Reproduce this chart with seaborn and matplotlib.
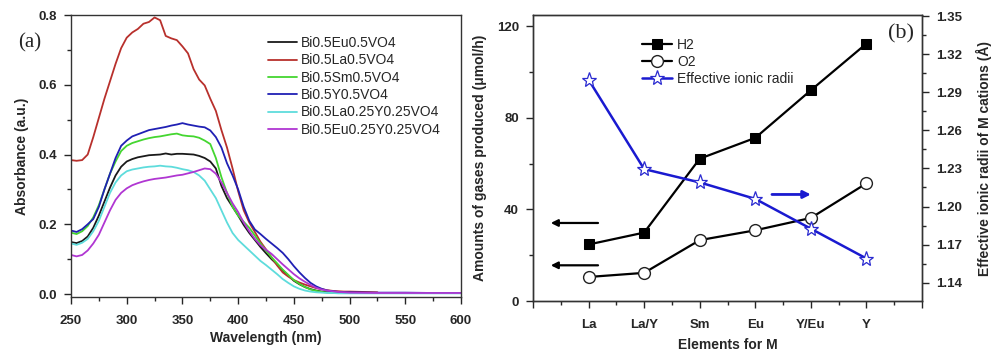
import numpy as np
import pandas as pd
import seaborn as sns
import matplotlib.pyplot as plt
from matplotlib.ticker import MultipleLocator, FixedLocator

# ---- panel (a): UV-vis absorbance spectra ----
wavelength = [250, 255, 260, 265, 270, 275, 280, 285, 290, 295, 300, 305, 310, 315, 320,
              325, 330, 335, 340, 345, 350, 355, 360, 365, 370, 375, 380, 385, 390, 395,
              400, 405, 410, 415, 420, 425, 430, 435, 440, 445, 450, 455, 460, 465, 470,
              475, 480, 485, 490, 495, 500, 525, 550, 575, 600]

abs_eu = [0.149, 0.146, 0.152, 0.165, 0.190, 0.225, 0.265, 0.305, 0.340, 0.365, 0.380, 0.387, 0.392, 0.395, 0.398,
          0.399, 0.400, 0.403, 0.400, 0.402, 0.402, 0.401, 0.400, 0.396, 0.390, 0.380, 0.360, 0.310, 0.275, 0.250,
          0.225, 0.198, 0.175, 0.155, 0.135, 0.117, 0.100, 0.085, 0.068, 0.053, 0.038, 0.028, 0.020, 0.014, 0.010,
          0.007, 0.005, 0.004, 0.004, 0.003, 0.003, 0.003, 0.003, 0.003, 0.003]
abs_la = [0.384, 0.382, 0.384, 0.400, 0.450, 0.505, 0.560, 0.610, 0.660, 0.705, 0.735, 0.750, 0.760, 0.775, 0.780,
          0.793, 0.785, 0.740, 0.733, 0.728, 0.710, 0.690, 0.645, 0.615, 0.598, 0.560, 0.525, 0.470, 0.420, 0.360,
          0.295, 0.240, 0.205, 0.178, 0.150, 0.128, 0.105, 0.082, 0.062, 0.050, 0.040, 0.033, 0.027, 0.022, 0.017,
          0.014, 0.011, 0.009, 0.008, 0.007, 0.007, 0.005, np.nan, np.nan, np.nan]
abs_sm = [0.176, 0.172, 0.180, 0.195, 0.220, 0.255, 0.300, 0.345, 0.380, 0.410, 0.425, 0.433, 0.438, 0.443, 0.447,
          0.450, 0.452, 0.455, 0.458, 0.460, 0.455, 0.453, 0.452, 0.448, 0.440, 0.430, 0.390, 0.335, 0.290, 0.250,
          0.225, 0.207, 0.190, 0.168, 0.145, 0.125, 0.105, 0.088, 0.070, 0.055, 0.040, 0.029, 0.020, 0.013, 0.009,
          0.006, 0.004, 0.004, 0.003, 0.003, 0.003, 0.003, 0.003, 0.003, 0.003]
abs_y = [0.182, 0.178, 0.186, 0.200, 0.215, 0.250, 0.300, 0.345, 0.390, 0.425, 0.440, 0.452, 0.458, 0.464, 0.470,
         0.473, 0.476, 0.479, 0.483, 0.486, 0.490, 0.486, 0.483, 0.480, 0.478, 0.469, 0.450, 0.420, 0.375, 0.340,
         0.300, 0.250, 0.210, 0.185, 0.172, 0.158, 0.145, 0.132, 0.118, 0.100, 0.080, 0.062, 0.046, 0.032, 0.022,
         0.015, 0.010, 0.008, 0.006, 0.005, 0.005, 0.004, 0.004, 0.003, 0.003]
abs_lay = [0.145, 0.141, 0.147, 0.158, 0.180, 0.210, 0.250, 0.290, 0.320, 0.340, 0.352, 0.357, 0.360, 0.363, 0.365,
           0.366, 0.368, 0.366, 0.365, 0.362, 0.358, 0.355, 0.350, 0.340, 0.325, 0.300, 0.275, 0.240, 0.205, 0.175,
           0.155, 0.140, 0.125, 0.110, 0.095, 0.083, 0.070, 0.057, 0.043, 0.032, 0.022, 0.015, 0.010, 0.007, 0.005,
           0.004, 0.003, 0.003, 0.002, 0.002, 0.002, 0.002, 0.002, 0.002, 0.002]
abs_euy = [0.112, 0.108, 0.112, 0.125, 0.145, 0.170, 0.205, 0.240, 0.270, 0.290, 0.303, 0.312, 0.318, 0.323, 0.327,
           0.330, 0.332, 0.334, 0.337, 0.340, 0.342, 0.346, 0.350, 0.355, 0.360, 0.358, 0.345, 0.320, 0.290, 0.260,
           0.235, 0.205, 0.180, 0.158, 0.140, 0.127, 0.115, 0.100, 0.085, 0.071, 0.057, 0.045, 0.035, 0.026, 0.018,
           0.013, 0.010, 0.008, 0.006, 0.005, 0.004, 0.003, 0.003, 0.003, 0.003]

samples = ["Bi0.5Eu0.5VO4", "Bi0.5La0.5VO4", "Bi0.5Sm0.5VO4", "Bi0.5Y0.5VO4",
           "Bi0.5La0.25Y0.25VO4", "Bi0.5Eu0.25Y0.25VO4"]
spectra = [abs_eu, abs_la, abs_sm, abs_y, abs_lay, abs_euy]
colors = ["#1a1a1a", "#b8302c", "#44d630", "#2020b4", "#5edcdc", "#b036d2"]

# ---- panel (b): gas evolution and ionic radii ----
elements = ["La", "La/Y", "Sm", "Eu", "Y/Eu", "Y"]
h2 = [24.7, 29.9, 62.2, 71.3, 92.1, 112.5]
o2 = [10.5, 12.3, 26.6, 30.9, 36.3, 51.4]
radii = [1.300, 1.2295, 1.219, 1.206, 1.1825, 1.159]

frames = []
for name, vals in zip(samples, spectra):
    frames.append(pd.DataFrame({"wavelength": wavelength, "absorbance": vals, "sample": name}))
df = pd.concat(frames).dropna()

sns.set_style("ticks")
plt.rcParams["font.family"] = ["Liberation Sans", "DejaVu Sans"]
plt.rcParams["axes.edgecolor"] = "#333333"
plt.rcParams["axes.linewidth"] = 1.0

fig = plt.figure(figsize=(9.92, 3.54), dpi=100)
ax1 = fig.add_axes([71 / 992, 1 - 297 / 354, 390 / 992, 282 / 354])
ax2 = fig.add_axes([533 / 992, 1 - 301 / 354, 389 / 992, 286 / 354])

sns.lineplot(data=df, x="wavelength", y="absorbance", hue="sample", hue_order=samples,
             palette=dict(zip(samples, colors)), linewidth=1.3, legend=False, ax=ax1)
ax1.set_xlim(250, 600)
ax1.set_ylim(-0.0085, 0.8)
ax1.xaxis.set_major_locator(MultipleLocator(50))
ax1.xaxis.set_minor_locator(MultipleLocator(25))
ax1.yaxis.set_major_locator(FixedLocator([0, 0.2, 0.4, 0.6, 0.8]))
ax1.yaxis.set_minor_locator(FixedLocator([0.1, 0.3, 0.5, 0.7]))
ax1.yaxis.set_major_formatter(plt.FuncFormatter(lambda v, p: f"{v:.1f}"))
ax1.set_xlabel("Wavelength (nm)", fontsize=10, fontweight="bold", labelpad=3)
ax1.set_ylabel("Absorbance (a.u.)", fontsize=10, fontweight="bold", labelpad=7)
ax1.legend(ax1.lines, samples, loc="upper left", bbox_to_anchor=(0.49, 0.945), frameon=False,
           fontsize=10, handlelength=2.1, handletextpad=0.3, labelspacing=0.24, borderaxespad=0)
fig.text(30 / 992, 1 - 43 / 354, "(a)", fontsize=15, family="Liberation Serif", ha="center", va="center")

x = np.arange(1, len(elements) + 1)
sns.lineplot(x=x, y=h2, color="black", linewidth=1.6, marker="s", markersize=7.5,
             markerfacecolor="black", markeredgecolor="black", label="H2", ax=ax2, legend=False)
sns.lineplot(x=x, y=o2, color="black", linewidth=1.6, marker="o", markersize=8.5,
             markerfacecolor="white", markeredgecolor="#222222", markeredgewidth=1.0,
             label="O2", ax=ax2, legend=False)
ax3 = ax2.twinx()
sns.lineplot(x=x, y=radii, color="#1a1ad0", linewidth=1.8, marker="*", markersize=11,
             markerfacecolor="white", markeredgecolor="#2a2ad0", markeredgewidth=0.9,
             label="Effective ionic radii", ax=ax3, legend=False)

ax2.set_xlim(0, 7)
ax2.set_ylim(0, 125)
ax2.set_xticks(range(0, 8))
ax2.set_xticklabels([""] + elements + [""])
ax2.xaxis.set_minor_locator(MultipleLocator(0.5))
ax2.yaxis.set_major_locator(MultipleLocator(40))
ax2.yaxis.set_minor_locator(MultipleLocator(20))
ax2.set_xlabel("Elements for M", fontsize=10, fontweight="bold", labelpad=5)
ax2.set_ylabel("Amounts of gases produced (\u03bcmol/h)", fontsize=10, fontweight="bold", labelpad=7)

ax3.set_ylim(1.1255, 1.351)
ax3.yaxis.set_major_locator(FixedLocator([1.14, 1.17, 1.20, 1.23, 1.26, 1.29, 1.32, 1.35]))
ax3.yaxis.set_minor_locator(FixedLocator([1.155, 1.185, 1.215, 1.245, 1.275, 1.305, 1.335]))
ax3.yaxis.set_major_formatter(plt.FuncFormatter(lambda v, p: f"{v:.2f}"))
ax3.set_ylabel("Effective ionic radii of M cations (\u00c5)", fontsize=10, fontweight="bold", labelpad=10)

# arrows pointing to the matching axis
for yv in [34.1, 15.6]:
    ax2.annotate("", xy=(0.27, yv), xytext=(1.22, yv),
                 arrowprops=dict(arrowstyle="-|>", color="black", lw=1.6, mutation_scale=10))
ax3.annotate("", xy=(5.05, 1.2095), xytext=(4.25, 1.2095),
             arrowprops=dict(arrowstyle="-|>", color="#1a1ad0", lw=2.0, mutation_scale=11))

handles = ax2.lines[:2] + ax3.lines[:1]
ax2.legend(handles, ["H2", "O2", "Effective ionic radii"], loc="upper left",
           bbox_to_anchor=(0.265, 0.94), frameon=False, fontsize=10, handlelength=2.2,
           handletextpad=0.35, labelspacing=0.22, borderaxespad=0)
ax2.text(0.945, 0.935, "(b)", transform=ax2.transAxes, fontsize=16,
         family="Liberation Serif", ha="center", va="center")

for ax in (ax1, ax2, ax3):
    ax.tick_params(which="major", direction="out", length=5, width=1, labelsize=9.5, pad=5)
    ax.tick_params(which="minor", direction="out", length=3, width=1)
    for lab in ax.get_xticklabels() + ax.get_yticklabels():
        lab.set_fontweight("bold")
ax1.tick_params(axis="x", pad=8)
ax2.tick_params(axis="x", pad=8)
ax3.tick_params(axis="y", which="both", right=True, left=False)

fig.savefig("out.png", dpi=100)
